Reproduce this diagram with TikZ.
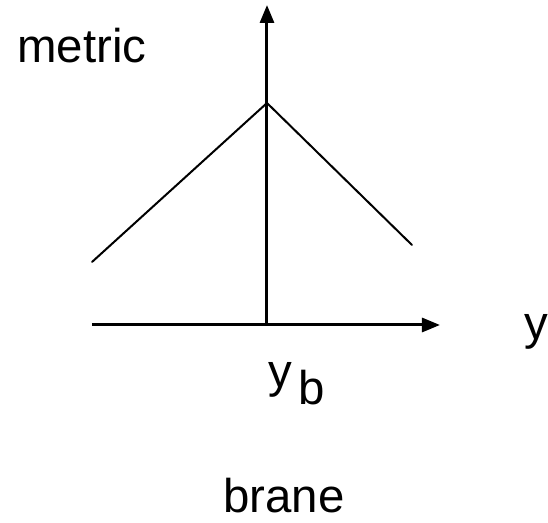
\documentclass[tikz,border=0pt]{standalone}
\usepackage{fontspec}
\setmainfont{Liberation Sans}
\usetikzlibrary{arrows.meta,positioning}
\begin{document}
\begin{tikzpicture}[x=0.5pt,y=-0.5pt,>={Triangle[length=9pt,width=7pt]}]
    \tikzstyle{axis}=[line width=1.5pt,->]
    \tikzstyle{curve}=[line width=1pt,line cap=round]
    \tikzstyle{lbl}=[inner sep=0pt,anchor=base west,font=\fontsize{23.7}{28}\selectfont]
    \useasboundingbox (0,0) rectangle (548,523);
    \coordinate (o) at (267,325);
    \coordinate (top) at (267,5);
    \coordinate (xend) at (440,325);
    \coordinate (xstart) at (92,325);
    \coordinate (peak) at (267,103);
    \coordinate (lft) at (92,262);
    \coordinate (rgt) at (412,245);
    \draw[axis] (xstart) -- (xend);
    \draw[axis] (o) -- (top);
    \draw[curve] (lft) -- (peak) -- (rgt);
    \node[lbl] (metric) at (17,63) {metric};
    \node[lbl] (yaxis) at (524,340) {y};
    \node[lbl] (yb) at (268,388) {y\hspace{3pt}\raisebox{-8.5pt}{b}};
    \node[lbl] (brane) at (223,513) {brane};
  \end{tikzpicture}
\end{document}
